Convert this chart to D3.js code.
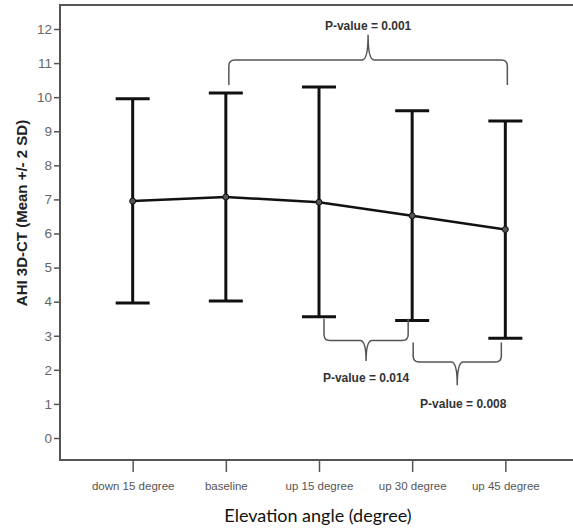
<!DOCTYPE html>
<html>
<head>
<meta charset="utf-8">
<script src="https://cdn.jsdelivr.net/npm/d3@7"></script>
<style>
  body { margin: 0; background: #fff; }
  svg { display: block; }
</style>
</head>
<body>
<svg width="573" height="531"></svg>
<script>
// Data
let categories = ["down 15 degree", "baseline", "up 15 degree", "up 30 degree", "up 45 degree"];
let means = [6.95, 7.07, 6.92, 6.52, 6.12];
let upper = [9.95, 10.12, 10.3, 9.6, 9.3];
let lower = [3.96, 4.02, 3.56, 3.45, 2.93];
let yTicks = [0, 1, 2, 3, 4, 5, 6, 7, 8, 9, 10, 11, 12];

// P-value braces: from category, to category, label, ends / bar / tip levels
let braceFrom = ["baseline", "up 15 degree", "up 30 degree"];
let braceTo = ["up 45 degree", "up 30 degree", "up 45 degree"];
let braceLabels = ["P-value = 0.001", "P-value = 0.014", "P-value = 0.008"];
let braceEnd = [10.36, 3.5, 2.8];
let braceBar = [11.09, 2.86, 2.23];
let braceTip = [11.83, 2.26, 1.55];
let braceText = [12.1, 1.76, 1.0];

let sansFont = "'Liberation Sans', Arial, sans-serif";

// The svg
let svg = d3.select("svg");
let plotLeft = 60, plotRight = 578, plotTop = 5, plotBottom = 460;

let x = d3.scalePoint()
    .domain(categories)
    .range([plotLeft, plotRight])
    .padding(0.78);
let y = d3.scaleLinear()
    .domain([0, 12])
    .range([438, 29]);

// Frame
svg.append("path")
    .attr("d", `M${plotRight},${plotTop}H${plotLeft}V${plotBottom}H${plotRight}`)
    .attr("fill", "none")
    .attr("stroke", "#555")
    .attr("stroke-width", 2);

// Axes
let yAxis = svg.append("g")
    .attr("transform", `translate(${plotLeft},0)`)
    .call(d3.axisLeft(y).tickValues(yTicks).tickSize(6).tickPadding(2).tickFormat(d3.format("d")));
yAxis.select(".domain").remove();
yAxis.selectAll("line").attr("stroke", "#555").attr("stroke-width", 1.5);
yAxis.selectAll("text")
    .attr("fill", "#666")
    .style("font-family", sansFont)
    .style("font-size", "13.5px");

let xAxis = svg.append("g")
    .attr("transform", `translate(0,${plotBottom})`)
    .call(d3.axisBottom(x).tickSize(12).tickPadding(10));
xAxis.select(".domain").remove();
xAxis.selectAll("line").attr("stroke", "#555").attr("stroke-width", 1.5);
xAxis.selectAll("text")
    .attr("fill", "#555")
    .style("font-family", sansFont)
    .style("font-size", "11.5px");

// Axis titles
svg.append("text")
    .attr("transform", "translate(27,213) rotate(-90)")
    .attr("text-anchor", "middle")
    .style("font-family", sansFont)
    .style("font-size", "15px")
    .style("font-weight", "bold")
    .attr("fill", "#222")
    .text("AHI 3D-CT (Mean +/- 2 SD)");
svg.append("text")
    .attr("x", 318)
    .attr("y", 522)
    .attr("text-anchor", "middle")
    .style("font-family", "Lato, 'Open Sans', sans-serif")
    .style("font-size", "18px")
    .attr("fill", "#111")
    .text("Elevation angle (degree)");

// Error bars
let idx = d3.range(categories.length);
let capW = 17;
let bars = svg.append("g").attr("stroke", "#111").attr("stroke-width", 3);
bars.selectAll(".whisker").data(idx).join("line")
    .attr("x1", i => x(categories[i])).attr("x2", i => x(categories[i]))
    .attr("y1", i => y(upper[i])).attr("y2", i => y(lower[i]));
bars.selectAll(".capTop").data(idx).join("line")
    .attr("x1", i => x(categories[i]) - capW).attr("x2", i => x(categories[i]) + capW)
    .attr("y1", i => y(upper[i])).attr("y2", i => y(upper[i]));
bars.selectAll(".capBot").data(idx).join("line")
    .attr("x1", i => x(categories[i]) - capW).attr("x2", i => x(categories[i]) + capW)
    .attr("y1", i => y(lower[i])).attr("y2", i => y(lower[i]));

// Mean line and points
let line = d3.line()
    .x(i => x(categories[i]))
    .y(i => y(means[i]));
svg.append("path")
    .datum(idx)
    .attr("d", line)
    .attr("fill", "none")
    .attr("stroke", "#111")
    .attr("stroke-width", 2.5);
svg.selectAll(".pt").data(idx).join("circle")
    .attr("cx", i => x(categories[i]))
    .attr("cy", i => y(means[i]))
    .attr("r", 3)
    .attr("fill", "#555")
    .attr("stroke", "#111")
    .attr("stroke-width", 1);

// Braces
function bracePath(x0, x1, yEnd, yBar, yTip) {
  let xm = (x0 + x1) / 2, r = 6;
  let dir = yBar < yEnd ? -1 : 1;
  return `M${x0},${yEnd}V${yBar - dir * r}Q${x0},${yBar} ${x0 + r},${yBar}` +
    `H${xm - r}Q${xm},${yBar} ${xm},${yTip}` +
    `Q${xm},${yBar} ${xm + r},${yBar}H${x1 - r}Q${x1},${yBar} ${x1},${yBar - dir * r}V${yEnd}`;
}
let braces = svg.append("g");
d3.range(braceLabels.length).forEach(i => {
  let x0 = x(braceFrom[i]) + (i === 0 ? 3 : i === 1 ? 5 : 1);
  let x1 = x(braceTo[i]) + (i === 0 ? 2 : -4);
  braces.append("path")
    .attr("d", bracePath(x0, x1, y(braceEnd[i]), y(braceBar[i]), y(braceTip[i])))
    .attr("fill", "none")
    .attr("stroke", "#555")
    .attr("stroke-width", 1.5);
  braces.append("text")
    .attr("x", (x0 + x1) / 2 + (i === 2 ? 6 : 0))
    .attr("y", y(braceText[i]) + 4)
    .attr("text-anchor", "middle")
    .style("font-family", sansFont)
    .style("font-size", "12px")
    .style("font-weight", "bold")
    .attr("fill", "#333")
    .text(braceLabels[i]);
});
</script>
</body>
</html>
